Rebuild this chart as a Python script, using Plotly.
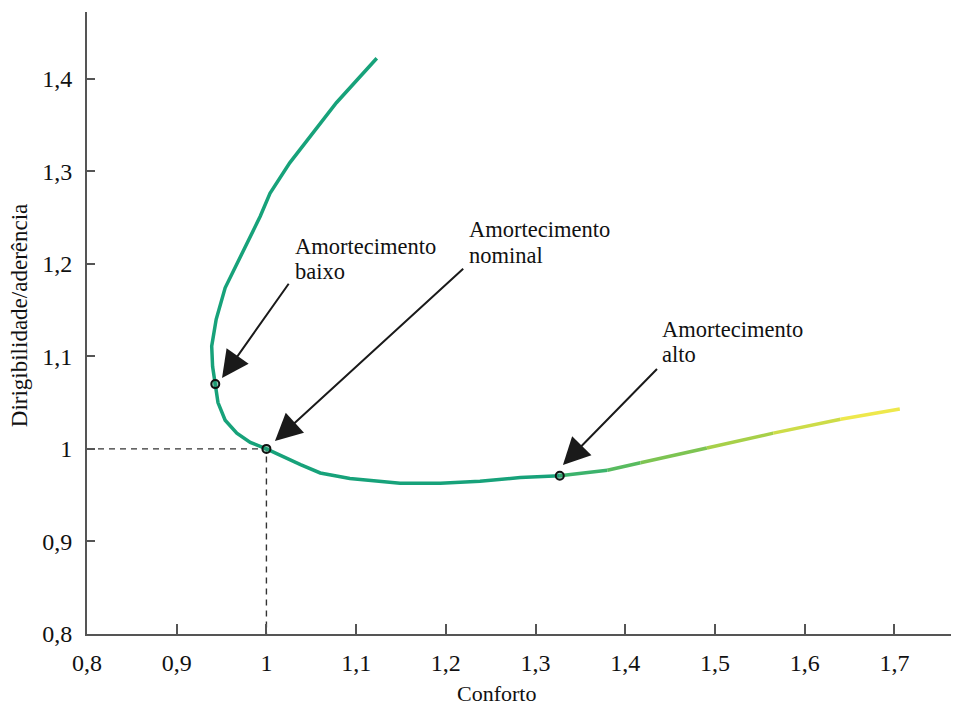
import plotly.graph_objects as go

# ---- data ----
conforto = [1.123, 1.078, 1.026, 1.004, 0.993, 0.954, 0.944, 0.939, 0.940, 0.943,
            0.946, 0.954, 0.967, 0.982, 1.000, 1.038, 1.060, 1.093, 1.149, 1.194,
            1.238, 1.283, 1.327, 1.380, 1.417, 1.491, 1.565, 1.640, 1.706]
dirigibilidade = [1.422, 1.374, 1.309, 1.276, 1.251, 1.174, 1.140, 1.111, 1.089, 1.070,
                  1.050, 1.031, 1.017, 1.007, 1.000, 0.983, 0.974, 0.968, 0.963, 0.963,
                  0.965, 0.969, 0.971, 0.977, 0.985, 1.001, 1.017, 1.032, 1.043]
tail_start = 22  # index where the colour starts to fade towards yellow
tail_colors = ["#3cb36c", "#58bb5f", "#7dc452", "#a7d049", "#cddc48", "#eee84c"]

marker_x = [0.943, 1.000, 1.327]
marker_y = [1.070, 1.000, 0.971]
marker_names = ["Amortecimento<br>baixo", "Amortecimento<br>nominal", "Amortecimento<br>alto"]

x_ticks = [0.8, 0.9, 1.0, 1.1, 1.2, 1.3, 1.4, 1.5, 1.6, 1.7]
x_labels = ["0,8", "0,9", "1", "1,1", "1,2", "1,3", "1,4", "1,5", "1,6", "1,7"]
y_ticks = [0.8, 0.9, 1.0, 1.1, 1.2, 1.3, 1.4]
y_labels = ["0,8", "0,9", "1", "1,1", "1,2", "1,3", "1,4"]

FONT = "Times New Roman, Liberation Serif, DejaVu Serif, serif"
MAIN = "#17a27a"
AX = "#555555"

fig = go.Figure()

# dashed reference lines through the nominal point
nx, ny = marker_x[1], marker_y[1]
fig.add_trace(go.Scatter(x=[x_ticks[0], nx, nx], y=[ny, ny, y_ticks[0]], mode="lines",
                         line=dict(color="#333333", width=1.4, dash="6px,5px"),
                         hoverinfo="skip", showlegend=False))

# main curve
fig.add_trace(go.Scatter(x=conforto[:tail_start + 1], y=dirigibilidade[:tail_start + 1],
                         mode="lines", line=dict(color=MAIN, width=3.5),
                         showlegend=False))
# gradient tail
for i in range(tail_start, len(conforto) - 1):
    c = tail_colors[i - tail_start]
    fig.add_trace(go.Scatter(x=conforto[i:i + 2], y=dirigibilidade[i:i + 2], mode="lines",
                             line=dict(color=c, width=3.5), showlegend=False))

# markers
fig.add_trace(go.Scatter(x=marker_x, y=marker_y, mode="markers",
                         marker=dict(size=8, color="rgba(40,150,110,0.5)",
                                     line=dict(color="#111111", width=2)),
                         showlegend=False))

annotations = []
# arrow tail positions and label anchors (pixel-estimated, layout only)
arrow_tails = [(1.026, 1.180), (1.221, 1.196), (1.437, 1.088)]
tip_offsets = [(0.0075, 0.0065), (0.0095, 0.0085), (0.0035, 0.0115)]
label_left = [1.0297, 1.2236, 1.4388]
label_line_y = [(1.2184, 1.1914), (1.2368, 1.2086), (1.1286, 1.1016)]
for (mx, my), (tx, ty), (ox, oy), lx, ly, name in zip(zip(marker_x, marker_y), arrow_tails,
                                                       tip_offsets, label_left, label_line_y,
                                                       marker_names):
    annotations.append(dict(x=mx + ox, y=my + oy, ax=tx, ay=ty, xref="x", yref="y",
                            axref="x", ayref="y", text="", showarrow=True,
                            arrowhead=2, arrowsize=2.7, arrowwidth=2, arrowcolor="#1a1a1a"))
    for line, yy in zip(name.split("<br>"), ly):
        annotations.append(dict(x=lx, y=yy, xref="x", yref="y", text=line, showarrow=False,
                                xanchor="left", yanchor="middle", align="left",
                                font=dict(family=FONT, size=22.5, color="#111111")))

annotations.append(dict(x=0.470, y=-0.095, xref="paper", yref="paper", text="Conforto",
                        showarrow=False, xanchor="center", yanchor="middle",
                        font=dict(family=FONT, size=22, color="#111111")))
annotations.append(dict(x=-0.0765, y=0.513, xref="paper", yref="paper",
                        text="Dirigibilidade/aderência", textangle=-90, showarrow=False,
                        xanchor="center", yanchor="middle",
                        font=dict(family=FONT, size=23, color="#111111")))

# the page body adds an 8px margin, so the figure is shrunk by that much
fig.update_layout(
    width=951, height=698,
    margin=dict(l=79, r=0, t=4, b=72),
    paper_bgcolor="white", plot_bgcolor="white",
    annotations=annotations,
    xaxis=dict(range=[0.8, 1.772], tickvals=x_ticks, ticktext=x_labels,
               showline=True, linecolor=AX, linewidth=2, ticks="inside", ticklen=10,
               tickwidth=1.5, tickcolor=AX, showgrid=False, zeroline=False,
               tickfont=dict(family=FONT, size=24, color="#111111"), ticklabelstandoff=6),
    yaxis=dict(range=[0.8, 1.472], tickvals=y_ticks, ticktext=y_labels,
               showline=True, linecolor=AX, linewidth=2, ticks="inside", ticklen=8,
               tickwidth=1.5, tickcolor=AX, showgrid=False, zeroline=False,
               tickfont=dict(family=FONT, size=24, color="#111111"), ticklabelstandoff=8),
)

fig.write_html("out.html")
